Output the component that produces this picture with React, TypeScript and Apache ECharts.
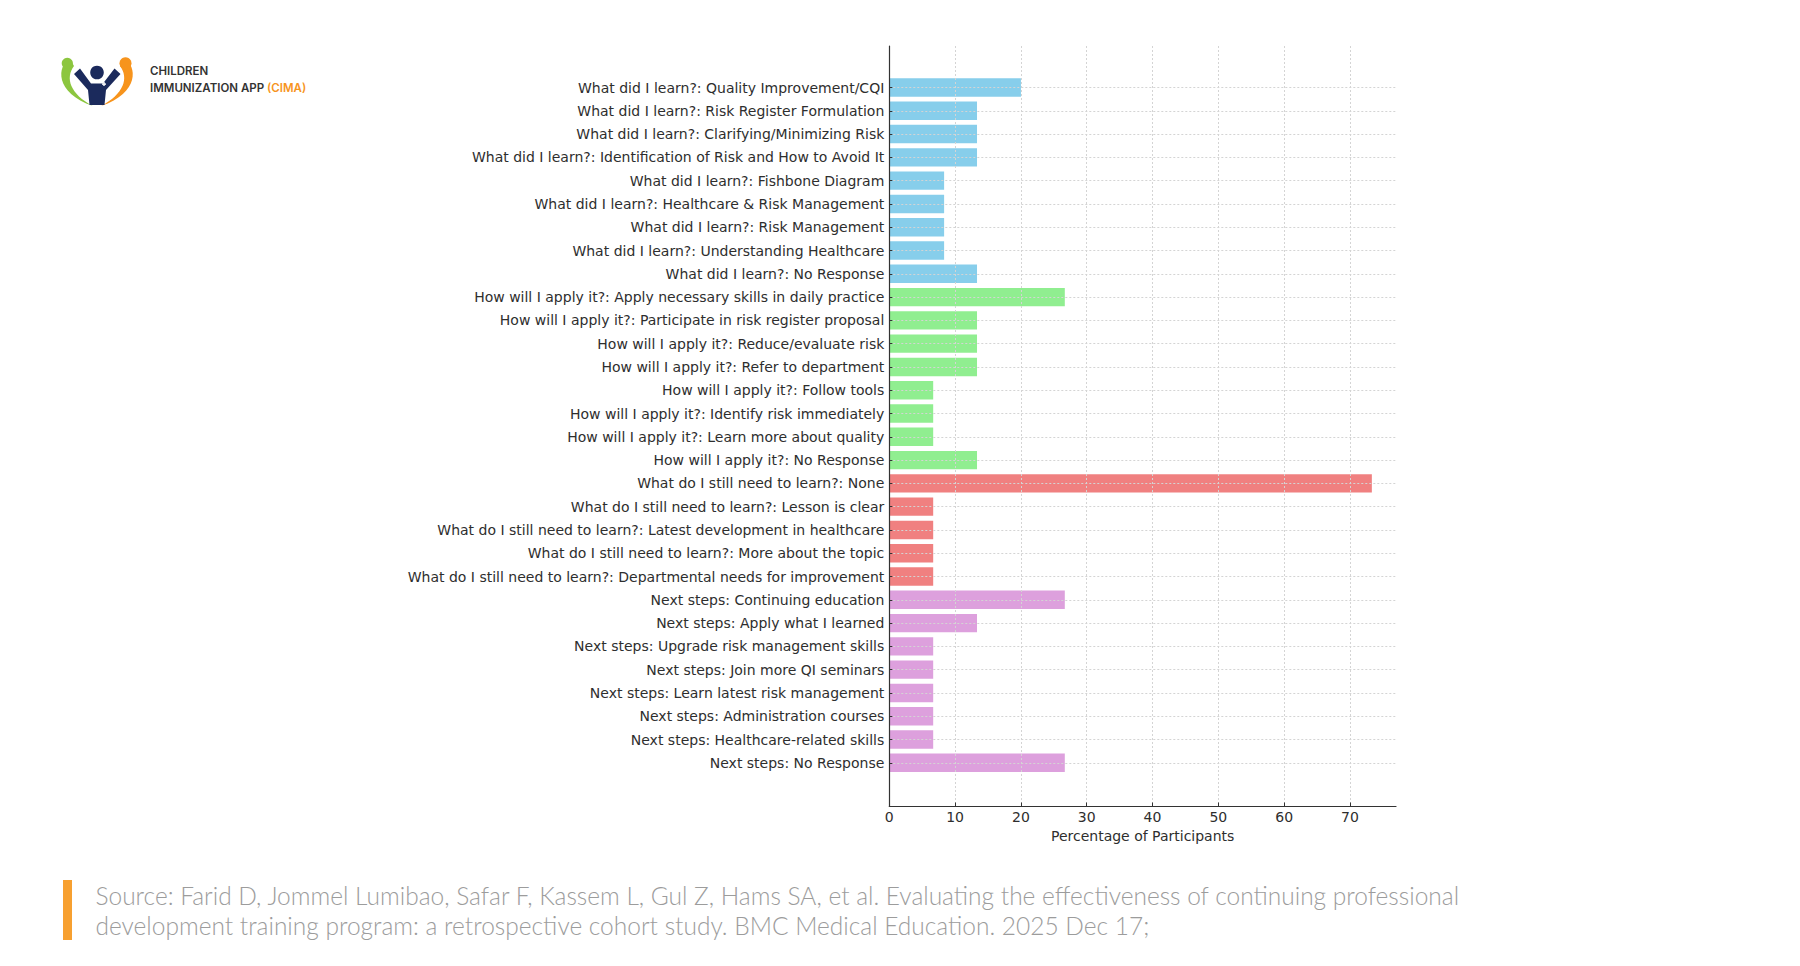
import React, { useEffect, useRef } from "react";
import * as echarts from "echarts";

// ---------- data ----------
const learnLabels = [
  "What did I learn?: Quality Improvement/CQI",
  "What did I learn?: Risk Register Formulation",
  "What did I learn?: Clarifying/Minimizing Risk",
  "What did I learn?: Identification of Risk and How to Avoid It",
  "What did I learn?: Fishbone Diagram",
  "What did I learn?: Healthcare & Risk Management",
  "What did I learn?: Risk Management",
  "What did I learn?: Understanding Healthcare",
  "What did I learn?: No Response",
];
const learnValues = [20, 13.33, 13.33, 13.33, 8.33, 8.33, 8.33, 8.33, 13.33];

const applyLabels = [
  "How will I apply it?: Apply necessary skills in daily practice",
  "How will I apply it?: Participate in risk register proposal",
  "How will I apply it?: Reduce/evaluate risk",
  "How will I apply it?: Refer to department",
  "How will I apply it?: Follow tools",
  "How will I apply it?: Identify risk immediately",
  "How will I apply it?: Learn more about quality",
  "How will I apply it?: No Response",
];
const applyValues = [26.67, 13.33, 13.33, 13.33, 6.67, 6.67, 6.67, 13.33];

const needLabels = [
  "What do I still need to learn?: None",
  "What do I still need to learn?: Lesson is clear",
  "What do I still need to learn?: Latest development in healthcare",
  "What do I still need to learn?: More about the topic",
  "What do I still need to learn?: Departmental needs for improvement",
];
const needValues = [73.33, 6.67, 6.67, 6.67, 6.67];

const nextLabels = [
  "Next steps: Continuing education",
  "Next steps: Apply what I learned",
  "Next steps: Upgrade risk management skills",
  "Next steps: Join more QI seminars",
  "Next steps: Learn latest risk management",
  "Next steps: Administration courses",
  "Next steps: Healthcare-related skills",
  "Next steps: No Response",
];
const nextValues = [26.67, 13.33, 6.67, 6.67, 6.67, 6.67, 6.67, 26.67];

const groupColors = ["#87CEEB", "#90EE90", "#F08080", "#DDA0DD"];
const xAxisMax = 77;
const xTickInterval = 10;
const xTickMax = 70;
const xAxisTitle = "Percentage of Participants";

const sourceLine1 =
  "Source: Farid D, Jommel Lumibao, Safar F, Kassem L, Gul Z, Hams SA, et al. Evaluating the effectiveness of continuing professional";
const sourceLine2 =
  "development training program: a retrospective cohort study. BMC Medical Education. 2025 Dec 17;";

// ---------- layout ----------
const AX_LEFT = 889.3;
const AX_TOP = 46;
const AX_BOTTOM = 806.5;
const AX_RIGHT = 1396;
const UNIT = (AX_RIGHT - AX_LEFT) / xAxisMax;
const FIRST_C = 87.5;
const LAST_C = 762.8;

export default function App() {
  const ref = useRef<HTMLDivElement>(null);

  useEffect(() => {
    const el = ref.current;
    if (!el) return;

    echarts.graphic.registerShape(
      "logoGreen",
      echarts.graphic.extendPath(
        "M 70 59 C 57 65 54 93 93 106 C 70 94 65 78 74 66 Z",
        {}
      )
    );
    echarts.graphic.registerShape(
      "logoOrange",
      echarts.graphic.extendPath(
        "M 124 59 C 137 65 140 93 101 106 C 124 94 129 78 120 66 Z",
        {}
      )
    );

    const groups = [
      { labels: learnLabels, values: learnValues },
      { labels: applyLabels, values: applyValues },
      { labels: needLabels, values: needValues },
      { labels: nextLabels, values: nextValues },
    ];
    const categories: string[] = [];
    const barData: any[] = [];
    groups.forEach((g, gi) => {
      g.labels.forEach((l, i) => {
        categories.push(l);
        barData.push({ value: g.values[i], itemStyle: { color: groupColors[gi] } });
      });
    });

    const n = categories.length;
    const band = (LAST_C - FIRST_C) / (n - 1);
    const gridW = AX_RIGHT - AX_LEFT;
    const gridH = AX_BOTTOM - AX_TOP;

    const labelFont = { fontFamily: "DejaVu Sans", fontSize: 14, color: "#2e2e2e" };
    const dotted = { color: "#d4d4d4", width: 1, type: [2, 2] as any };

    const chart = echarts.init(el, null, { renderer: "svg" });
    chart.setOption({
      animation: false,
      backgroundColor: "#ffffff",
      grid: [
        { left: AX_LEFT, top: AX_TOP, width: gridW, height: gridH, containLabel: false },
        { left: AX_LEFT, top: AX_TOP, width: xTickMax * UNIT, height: gridH, containLabel: false },
        { left: AX_LEFT, top: FIRST_C - band / 2, width: gridW, height: band * n, containLabel: false },
        { left: AX_LEFT, top: FIRST_C, width: gridW, height: LAST_C - FIRST_C, containLabel: false },
      ],
      xAxis: [
        {
          gridIndex: 0, type: "value", min: 0, max: xAxisMax, z: 4,
          axisLine: { show: true, lineStyle: { color: "#333", width: 1.2 } },
          axisTick: { show: false }, axisLabel: { show: false }, splitLine: { show: false },
          name: xAxisTitle, nameLocation: "middle", nameGap: 22,
          nameTextStyle: { fontFamily: "DejaVu Sans", fontSize: 14, color: "#2e2e2e" },
        },
        {
          gridIndex: 1, type: "value", min: 0, max: xTickMax, interval: xTickInterval, z: 3,
          axisLine: { show: false },
          axisTick: { show: true, inside: true, length: 4, lineStyle: { color: "#333", width: 1 } },
          axisLabel: { ...labelFont, margin: 3 },
          splitLine: { show: true, lineStyle: dotted },
        },
        { gridIndex: 2, type: "value", min: 0, max: xAxisMax, show: false },
        { gridIndex: 3, type: "value", min: 0, max: xAxisMax, show: false },
      ],
      yAxis: [
        {
          gridIndex: 0, type: "value", min: 0, max: 1, z: 4,
          axisLine: { show: true, lineStyle: { color: "#333", width: 1.2 } },
          axisTick: { show: false }, axisLabel: { show: false }, splitLine: { show: false },
        },
        { gridIndex: 1, type: "value", min: 0, max: 1, show: false },
        {
          gridIndex: 2, type: "category", data: categories, inverse: true, z: 4,
          axisLine: { show: false },
          axisTick: { show: true, inside: true, length: 3, alignWithLabel: true, lineStyle: { color: "#333" } },
          axisLabel: { ...labelFont, margin: 5 },
          splitLine: { show: false },
        },
        {
          gridIndex: 3, type: "category", data: categories, inverse: true, boundaryGap: false, z: 3,
          axisLine: { show: false }, axisTick: { show: false }, axisLabel: { show: false },
          splitLine: { show: true, lineStyle: dotted },
        },
      ],
      series: [
        {
          type: "bar",
          xAxisIndex: 2,
          yAxisIndex: 2,
          data: barData,
          barWidth: "79%",
          z: 2,
        },
      ],
      graphic: [
        {
          type: "group",
          x: 0,
          y: 0,
          children: [
            { type: "logoGreen", style: { fill: "#8CC63F" } },
            { type: "logoOrange", style: { fill: "#F7941D" } },
            { type: "circle", shape: { cx: 67.3, cy: 63.3, r: 5.6 }, style: { fill: "#8CC63F" } },
            { type: "circle", shape: { cx: 125.5, cy: 63.3, r: 6 }, style: { fill: "#F7941D" } },
            { type: "circle", shape: { cx: 97, cy: 72.5, r: 6.8 }, style: { fill: "#1B2A5C" } },
            {
              type: "polygon",
              shape: {
                points: [
                  [74, 74], [80, 68.5], [91, 83.5], [103, 83.5], [114.5, 68.5], [120.5, 74],
                  [106, 90], [104.5, 105], [89.5, 105], [88, 90],
                ],
              },
              style: { fill: "#1B2A5C" },
            },
            { type: "rect", shape: { x: 102, y: 83.4, width: 4, height: 1.4 }, style: { fill: "#ffffff" } },
            { type: "rect", shape: { x: 103.3, y: 82.1, width: 1.4, height: 4 }, style: { fill: "#ffffff" } },
          ],
        },
        {
          type: "text",
          x: 150,
          y: 71,
          style: {
            text: "CHILDREN",
            fill: "#333333",
            font: "600 11.5px Inter",
            textVerticalAlign: "middle",
          },
        },
        {
          type: "text",
          x: 150,
          y: 87.5,
          style: {
            text: "{a|IMMUNIZATION APP }{b|(CIMA)}",
            textVerticalAlign: "middle",
            rich: {
              a: { fontFamily: "Inter", fontWeight: 600, fontSize: 11.5, fill: "#333333", color: "#333333" },
              b: { fontFamily: "Inter", fontWeight: 600, fontSize: 11.5, fill: "#F7941D", color: "#F7941D" },
            },
          },
        },
        {
          type: "rect",
          shape: { x: 63, y: 880, width: 9, height: 60 },
          style: { fill: "#F7A030" },
        },
        {
          type: "text",
          x: 95.5,
          y: 895,
          style: {
            text: sourceLine1,
            fill: "#9c9c9c",
            font: "300 24.5px Lato",
            textVerticalAlign: "middle",
          },
        },
        {
          type: "text",
          x: 95.5,
          y: 925,
          style: {
            text: sourceLine2,
            fill: "#9c9c9c",
            font: "300 24.5px Lato",
            textVerticalAlign: "middle",
          },
        },
      ],
    });

    return () => chart.dispose();
  }, []);

  return (
    <div
      ref={ref}
      style={{ position: "fixed", left: 0, top: 0, width: 1800, height: 966, background: "#fff" }}
    />
  );
}
